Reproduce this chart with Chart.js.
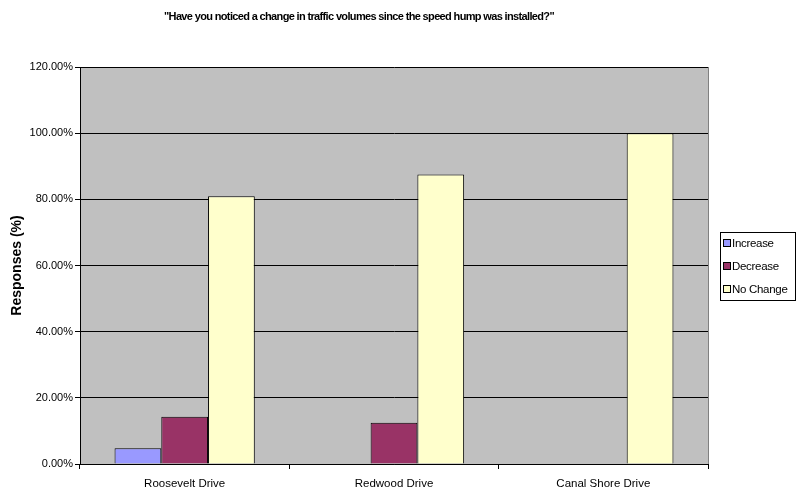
<!DOCTYPE html>
<html>
<head>
<meta charset="utf-8">
<script src="https://cdn.jsdelivr.net/npm/chart.js@4"></script>
<style>
  html, body { margin: 0; padding: 0; background: #ffffff; }
  #wrap { width: 796px; height: 502px; }
</style>
</head>
<body>
<div id="wrap"><canvas id="c" width="796" height="502"></canvas></div>
<script>
const titleText = '"Have you noticed a change in traffic volumes since the speed hump was installed?"';
const yAxisTitle = 'Responses (%)';
const categories = ['Roosevelt Drive', 'Redwood Drive', 'Canal Shore Drive'];
const seriesNames = ['Increase', 'Decrease', 'No Change'];
const increaseValues = [4.76, 0, 0];
const decreaseValues = [14.29, 12.5, 0];
const noChangeValues = [80.95, 87.5, 100];
const yTicks = [0, 20, 40, 60, 80, 100, 120];

const colors = ['#9999FF', '#993366', '#FFFFCC'];
const seriesValues = [increaseValues, decreaseValues, noChangeValues];
const FONT = 'Arial, "Liberation Sans", sans-serif';

const plotBg = {
  id: 'plotBg',
  beforeDraw(chart) {
    const {ctx, chartArea: a} = chart;
    ctx.save();
    ctx.fillStyle = '#ffffff';
    ctx.fillRect(0, 0, chart.width, chart.height);
    ctx.fillStyle = '#C0C0C0';
    ctx.fillRect(a.left, a.top, a.right - a.left, a.bottom - a.top);
    ctx.strokeStyle = '#808080';
    ctx.lineWidth = 1;
    ctx.beginPath();
    ctx.moveTo(Math.round(a.right) + 0.5, a.top);
    ctx.lineTo(Math.round(a.right) + 0.5, a.bottom);
    ctx.stroke();
    ctx.restore();
  }
};

const chartTitle = {
  id: 'chartTitle',
  afterDraw(chart) {
    const {ctx} = chart;
    ctx.save();
    ctx.font = 'bold 11px ' + FONT;
    if ('letterSpacing' in ctx) ctx.letterSpacing = '-0.65px';
    ctx.fillStyle = '#000000';
    ctx.textAlign = 'center';
    ctx.textBaseline = 'middle';
    ctx.fillText(titleText, 359, 17);
    ctx.restore();
  }
};

const boxLegend = {
  id: 'boxLegend',
  afterDraw(chart) {
    const {ctx, chartArea: a} = chart;
    const left = a.right + 12, top = 232, w = 76, rowH = 23;
    const h = rowH * chart.data.datasets.length;
    ctx.save();
    ctx.fillStyle = '#ffffff';
    ctx.fillRect(left, top, w, h);
    ctx.strokeStyle = '#000000';
    ctx.lineWidth = 1;
    ctx.strokeRect(left + 0.5, top + 0.5, w - 1, h - 1);
    ctx.font = '11.5px ' + FONT;
    if ('letterSpacing' in ctx) ctx.letterSpacing = '-0.3px';
    ctx.textBaseline = 'middle';
    chart.data.datasets.forEach((ds, i) => {
      const cy = top + 11.5 + i * rowH;
      ctx.fillStyle = ds.backgroundColor;
      ctx.fillRect(left + 4, cy - 3.5, 6, 6);
      ctx.strokeStyle = '#000000';
      ctx.strokeRect(left + 3.5, cy - 4, 7, 7);
      ctx.fillStyle = '#000000';
      ctx.fillText(ds.label, left + 12, cy + 0.5);
    });
    ctx.restore();
  }
};

new Chart(document.getElementById('c'), {
  type: 'bar',
  data: {
    labels: categories,
    datasets: seriesNames.map((name, i) => ({
      label: name,
      data: seriesValues[i],
      backgroundColor: colors[i],
      borderColor: '#000000',
      borderWidth: 1,
      categoryPercentage: 0.67,
      barPercentage: 1.0
    }))
  },
  options: {
    responsive: false,
    animation: false,
    devicePixelRatio: 1,
    layout: { padding: { left: 0, right: 88, top: 67, bottom: 0 } },
    plugins: {
      legend: { display: false },
      tooltip: { enabled: false },
      title: { display: false }
    },
    scales: {
      x: {
        afterFit(scale) { scale.height = 38; },
        grid: { display: true, offset: true, drawOnChartArea: false, drawTicks: true, tickLength: 5, color: '#000000' },
        border: { display: true, color: '#000000', width: 1 },
        ticks: { color: '#000000', font: { family: FONT, size: 11.5 }, padding: 8, maxRotation: 0 }
      },
      y: {
        min: 0,
        max: 120,
        afterFit(scale) { scale.width = 80; },
        afterBuildTicks(scale) { scale.ticks = yTicks.map(v => ({ value: v })); },
        grid: { color: '#000000', lineWidth: 1, drawTicks: true, tickLength: 5 },
        border: { display: true, color: '#000000', width: 1 },
        ticks: {
          color: '#000000',
          font: { family: FONT, size: 11 },
          padding: 2,
          callback: v => v.toFixed(2) + '%'
        },
        title: {
          display: true,
          text: yAxisTitle,
          color: '#000000',
          font: { family: FONT, size: 14, weight: 'bold' },
          padding: { top: 9, bottom: 0 }
        }
      }
    }
  },
  plugins: [plotBg, chartTitle, boxLegend]
});
</script>
</body>
</html>
